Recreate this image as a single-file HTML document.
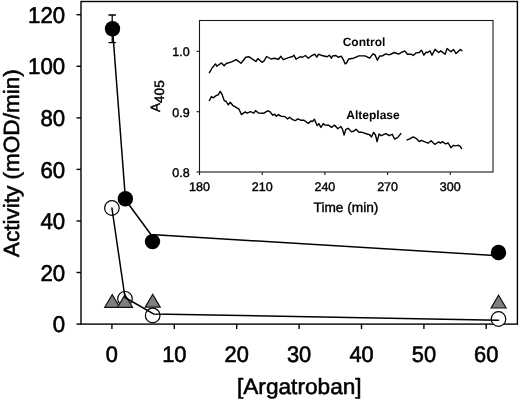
<!DOCTYPE html>
<html><head><meta charset="utf-8"><title>Figure</title>
<style>
html,body{margin:0;padding:0;background:#fff;}
body{width:520px;height:400px;overflow:hidden;font-family:"Liberation Sans",sans-serif;}
svg{display:block;filter:grayscale(1);}
text{font-family:"Liberation Sans",sans-serif;fill:#000;text-rendering:geometricPrecision;}
.ax{stroke:#000;stroke-width:1.4;fill:none;}
.ln{stroke:#000;stroke-width:1.5;fill:none;stroke-linejoin:round;stroke-linecap:round;}
.tr{stroke:#000;stroke-width:1.4;fill:none;stroke-linejoin:round;stroke-linecap:round;}
.big{font-size:22.6px;stroke:#000;stroke-width:0.6;}
.sm{font-size:12.5px;stroke:#000;stroke-width:0.4;}
.bd{font-size:12px;font-weight:bold;}
.tt{font-size:22px;stroke:#000;stroke-width:0.55;}
</style></head><body>
<svg width="520" height="400" viewBox="0 0 520 400">
<rect width="520" height="400" fill="#fff"/>

<rect class="ax" x="81" y="1.5" width="436.4" height="322.6"/>
<line class="ax" x1="76.5" y1="324.1" x2="81" y2="324.1"/>
<text class="big" transform="translate(65.2,332.2) scale(0.975,1)" text-anchor="end" style="font-size:22.8px">0</text>
<line class="ax" x1="76.5" y1="272.5" x2="81" y2="272.5"/>
<text class="big" transform="translate(65.2,280.6) scale(0.975,1)" text-anchor="end" style="font-size:22.8px">20</text>
<line class="ax" x1="76.5" y1="221.0" x2="81" y2="221.0"/>
<text class="big" transform="translate(65.2,229.1) scale(0.975,1)" text-anchor="end" style="font-size:22.8px">40</text>
<line class="ax" x1="76.5" y1="169.4" x2="81" y2="169.4"/>
<text class="big" transform="translate(65.2,177.5) scale(0.975,1)" text-anchor="end" style="font-size:22.8px">60</text>
<line class="ax" x1="76.5" y1="117.9" x2="81" y2="117.9"/>
<text class="big" transform="translate(65.2,126.0) scale(0.975,1)" text-anchor="end" style="font-size:22.8px">80</text>
<line class="ax" x1="76.5" y1="66.3" x2="81" y2="66.3"/>
<text class="big" transform="translate(65.2,74.4) scale(0.975,1)" text-anchor="end" style="font-size:22.8px">100</text>
<line class="ax" x1="76.5" y1="14.7" x2="81" y2="14.7"/>
<text class="big" transform="translate(65.2,22.8) scale(0.975,1)" text-anchor="end" style="font-size:22.8px">120</text>
<line class="ax" x1="111.9" y1="324.1" x2="111.9" y2="329"/>
<text class="big" transform="translate(111.9,362.1) scale(0.965,1)" text-anchor="middle">0</text>
<line class="ax" x1="174.3" y1="324.1" x2="174.3" y2="329"/>
<text class="big" transform="translate(174.3,362.1) scale(0.965,1)" text-anchor="middle">10</text>
<line class="ax" x1="236.7" y1="324.1" x2="236.7" y2="329"/>
<text class="big" transform="translate(236.7,362.1) scale(0.965,1)" text-anchor="middle">20</text>
<line class="ax" x1="299.1" y1="324.1" x2="299.1" y2="329"/>
<text class="big" transform="translate(299.1,362.1) scale(0.965,1)" text-anchor="middle">30</text>
<line class="ax" x1="361.5" y1="324.1" x2="361.5" y2="329"/>
<text class="big" transform="translate(361.5,362.1) scale(0.965,1)" text-anchor="middle">40</text>
<line class="ax" x1="423.9" y1="324.1" x2="423.9" y2="329"/>
<text class="big" transform="translate(423.9,362.1) scale(0.965,1)" text-anchor="middle">50</text>
<line class="ax" x1="486.2" y1="324.1" x2="486.2" y2="329"/>
<text class="big" transform="translate(486.2,362.1) scale(0.965,1)" text-anchor="middle">60</text>
<text class="tt" transform="translate(299.3,393.5) scale(1.03,1)" text-anchor="middle">[Argatroban]</text>
<text class="tt" transform="translate(18.7,163.2) rotate(-90) scale(1.025,1)" text-anchor="middle">Activity (mOD/min)</text>
<rect class="ax" x="199.5" y="20.5" width="293.5" height="151.5" style="stroke-width:1.1;stroke:#1a1a1a"/>
<line class="ax" x1="196.5" y1="51.3" x2="199.5" y2="51.3" style="stroke-width:1.1;stroke:#1a1a1a"/>
<text class="sm" x="189.7" y="56.1" text-anchor="end">1.0</text>
<line class="ax" x1="196.5" y1="111.7" x2="199.5" y2="111.7" style="stroke-width:1.1;stroke:#1a1a1a"/>
<text class="sm" x="189.7" y="116.5" text-anchor="end">0.9</text>
<line class="ax" x1="196.5" y1="172" x2="199.5" y2="172" style="stroke-width:1.1;stroke:#1a1a1a"/>
<text class="sm" x="189.7" y="176.8" text-anchor="end">0.8</text>
<line class="ax" x1="199.5" y1="172" x2="199.5" y2="175" style="stroke-width:1.1;stroke:#1a1a1a"/>
<text class="sm" x="199.5" y="190.5" text-anchor="middle">180</text>
<line class="ax" x1="262.2" y1="172" x2="262.2" y2="175" style="stroke-width:1.1;stroke:#1a1a1a"/>
<text class="sm" x="262.2" y="190.5" text-anchor="middle">210</text>
<line class="ax" x1="324.9" y1="172" x2="324.9" y2="175" style="stroke-width:1.1;stroke:#1a1a1a"/>
<text class="sm" x="324.9" y="190.5" text-anchor="middle">240</text>
<line class="ax" x1="387.6" y1="172" x2="387.6" y2="175" style="stroke-width:1.1;stroke:#1a1a1a"/>
<text class="sm" x="387.6" y="190.5" text-anchor="middle">270</text>
<line class="ax" x1="450.3" y1="172" x2="450.3" y2="175" style="stroke-width:1.1;stroke:#1a1a1a"/>
<text class="sm" x="450.3" y="190.5" text-anchor="middle">300</text>
<text class="sm" x="346" y="212.3" text-anchor="middle" style="font-size:13.7px">Time (min)</text>
<text class="bd" x="364" y="45.8" text-anchor="middle">Control</text>
<text class="bd" x="373" y="119.2" text-anchor="middle">Alteplase</text>
<text class="sm" transform="translate(160,112) rotate(-90)" style="font-size:13.5px">A<tspan dy="4" style="font-size:13.6px">405</tspan></text>
<polyline class="tr" points="209.4,72.7 212.1,68.0 215.5,63.9 216.8,66.2 221.5,62.9 224.2,65.7 226.2,63.5 231.6,61.9 236.3,59.6 241.0,63.3 245.8,57.2 249.1,56.8 255.9,61.5 257.9,58.6 261.9,62.3 263.9,61.2 266.6,56.5 271.0,59.0 274.4,58.2 278.5,59.2 280.9,56.3 283.2,59.6 288.6,57.6 292.6,56.5 293.9,55.2 296.0,59.2 300.7,56.5 302.0,57.5 305.4,55.5 308.3,58.3 311.4,55.9 314.8,54.2 316.8,57.2 318.6,54.1 320.9,55.2 327.2,56.8 329.3,55.2 331.4,58.2 332.7,55.9 336.0,55.5 338.0,57.2 341.4,56.3 343.5,59.9 345.2,63.9 346.8,62.6 348.6,59.0 353.6,58.2 358.9,55.9 365.0,55.9 369.7,58.2 373.0,53.8 375.0,54.9 377.4,60.2 379.8,55.9 381.8,56.1 385.9,53.8 389.2,54.8 394.6,52.5 398.4,54.2 404.7,50.9 407.4,54.2 411.2,54.2 413.2,55.5 415.9,52.9 419.2,52.5 421.5,50.2 423.9,55.2 426.0,52.2 427.7,52.5 430.0,50.9 432.0,55.2 435.0,49.4 438.7,52.5 440.8,50.9 445.1,54.2 447.1,48.5 450.9,51.8 453.5,49.4 456.0,53.6 460.3,49.4 461.9,50.7"/>
<polyline class="tr" points="209.4,100.5 211.4,96.6 213.5,97.8 216.2,95.5 218.2,94.8 220.2,91.4 221.9,94.1 224.2,100.6 226.2,101.5 228.3,104.9 230.3,102.2 232.7,105.3 239.0,109.2 241.5,114.6 245.1,111.9 247.1,113.2 250.5,111.6 253.8,113.2 255.6,110.6 258.5,113.0 263.9,113.2 267.7,110.9 269.7,111.5 272.8,115.2 274.7,114.2 276.4,116.2 278.5,114.6 280.9,116.2 284.9,116.5 287.6,118.9 289.5,117.3 292.6,119.6 295.3,120.7 297.7,118.9 301.3,120.3 304.0,120.3 308.3,123.4 310.8,121.0 312.4,121.6 314.4,119.2 317.2,125.7 318.8,123.6 320.9,127.4 323.3,123.6 324.9,125.0 328.9,125.3 331.4,127.4 334.7,125.2 337.8,128.7 340.8,126.5 342.4,128.9 344.1,135.0 345.9,129.3 348.2,128.3 351.5,131.9 354.0,131.0 356.0,129.3 358.9,132.3 362.3,132.3 367.0,134.0 369.7,134.7 371.5,137.0 373.7,132.3 375.5,135.0 377.1,141.7 379.1,133.9 381.1,135.7 385.9,133.6 389.2,135.7 392.2,134.3 394.6,139.0 397.7,137.6 400.8,133.6"/>
<polyline class="tr" points="407.1,139.9 409.8,138.9 413.2,136.9 416.5,138.7 419.2,141.6 421.2,140.3 428.0,143.2 431.1,140.7 434.7,144.3 438.7,142.0 440.8,143.0 442.4,141.6 445.5,143.9 448.2,143.0 450.9,147.7 453.5,145.3 455.6,145.9 458.3,145.3 460.3,146.3 461.6,148.6"/>
<path class="ln" d="M112.2,15 V42.6 M108.9,15 H115.5 M108.9,42.6 H115.5" style="stroke-width:1.3"/>
<polyline class="ln" points="112.5,28.8 125.5,200.0 150.9,234.5 498.5,255.7"/>
<circle cx="112.5" cy="28.75" r="7.7" fill="#000"/>
<circle cx="125.35" cy="198.7" r="7.7" fill="#000"/>
<circle cx="152.5" cy="241.6" r="7.7" fill="#000"/>
<circle cx="498.5" cy="252.5" r="7.7" fill="#000"/>
<circle cx="111.9" cy="208" r="7.3" fill="#fff" stroke="#000" stroke-width="1.2"/>
<circle cx="125" cy="298.8" r="7.3" fill="#fff" stroke="#000" stroke-width="1.2"/>
<circle cx="152.7" cy="315.4" r="7.3" fill="#fff" stroke="#000" stroke-width="1.2"/>
<circle cx="498.5" cy="319" r="7.3" fill="#fff" stroke="#000" stroke-width="1.2"/>
<path d="M112.2,294.6 L119.7,307.3 L104.7,307.3 Z" fill="#7f7f7f" stroke="#111" stroke-width="1.2" stroke-linejoin="miter"/>
<path d="M125,294.6 L132.5,307.3 L117.5,307.3 Z" fill="#7f7f7f" stroke="#111" stroke-width="1.2" stroke-linejoin="miter"/>
<path d="M152.7,294.4 L160.2,307.09999999999997 L145.2,307.09999999999997 Z" fill="#7f7f7f" stroke="#111" stroke-width="1.2" stroke-linejoin="miter"/>
<path d="M498.6,295.3 L506.1,308.0 L491.1,308.0 Z" fill="#7f7f7f" stroke="#111" stroke-width="1.2" stroke-linejoin="miter"/>
<polyline class="ln" points="111.9,208.0 125.0,297.5 153.5,313.9 498.5,320.2"/>
</svg></body></html>
